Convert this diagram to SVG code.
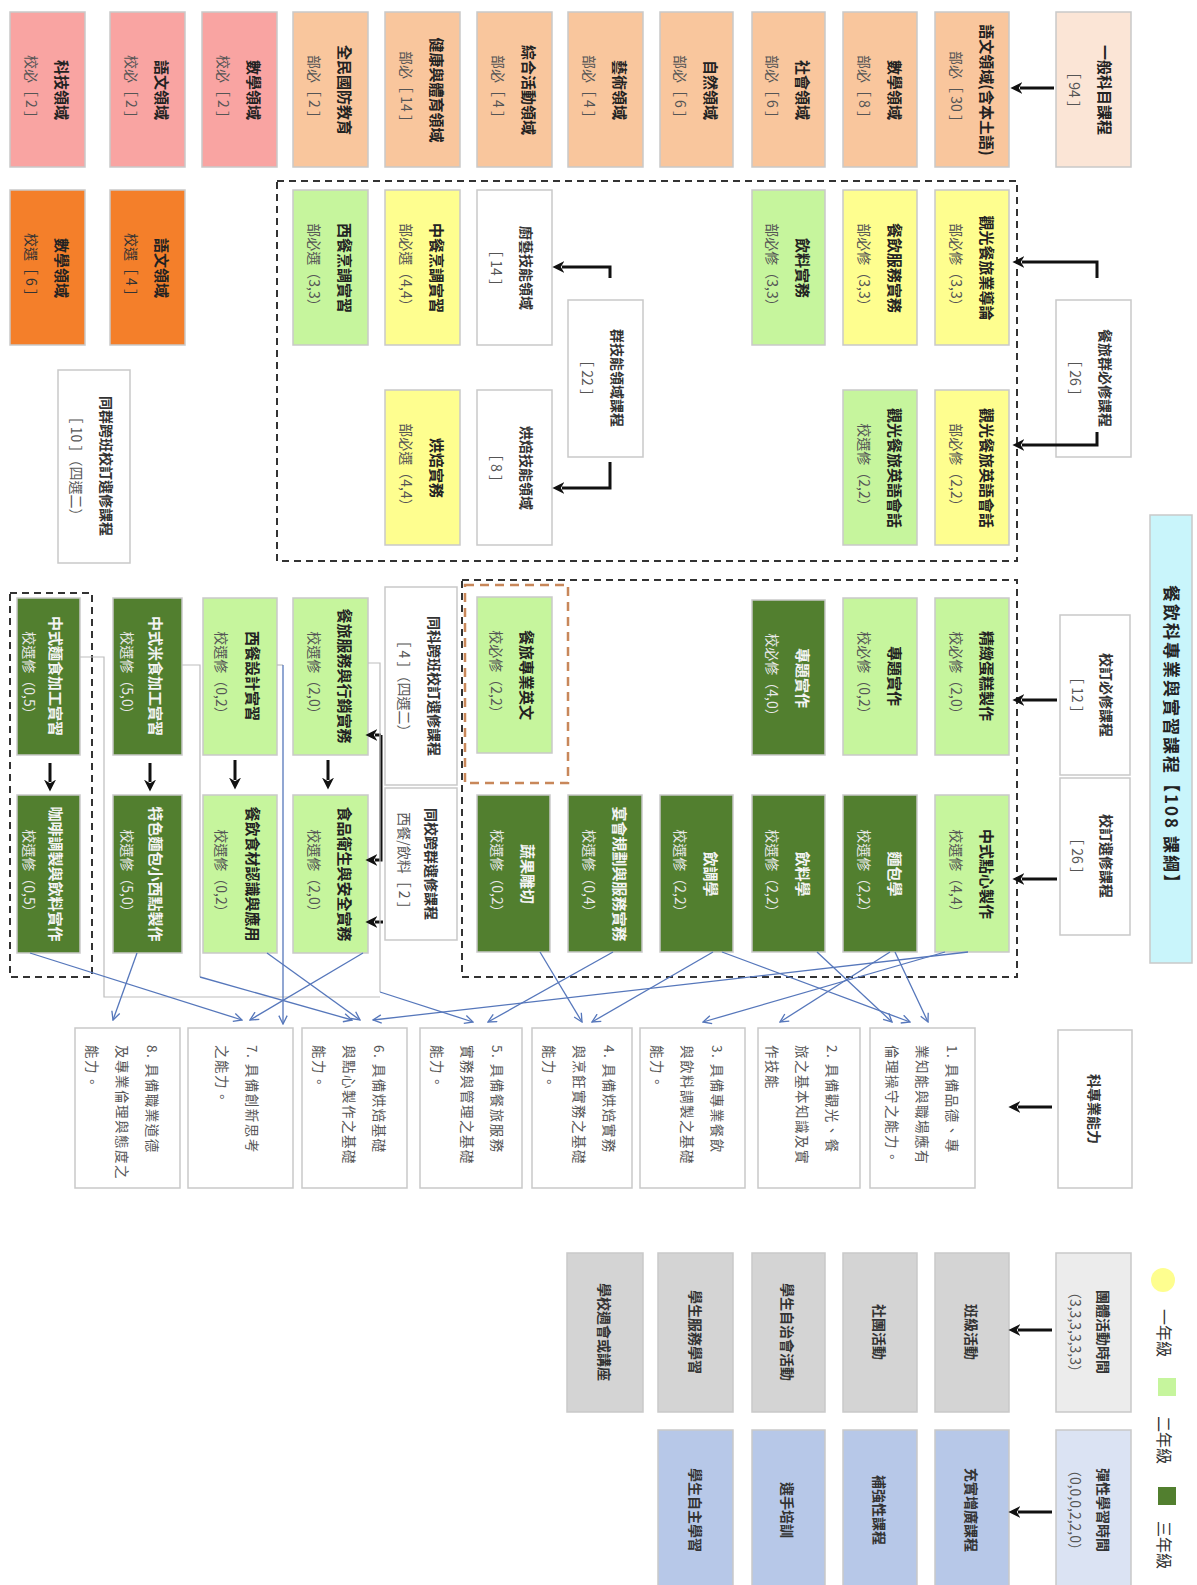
<svg xmlns="http://www.w3.org/2000/svg" width="1197" height="1585" viewBox="0 0 1197 1585">
<defs>
<style>
text{font-family:"Noto Sans CJK TC","Noto Sans CJK SC",sans-serif;text-anchor:middle;dominant-baseline:central}
.t{font-size:15px;font-weight:bold;fill:#222}
.s{font-size:14px;fill:#555}
.h{font-size:14px;font-weight:bold;fill:#333}
.tw{font-size:15px;font-weight:bold;fill:#f4f4f4}
.sw{font-size:14px;fill:#e8e8e8}
.o{font-size:13.5px;fill:#555;text-anchor:start;letter-spacing:1.5px}
.box{stroke:#c9c9c9;stroke-width:1.5}
.pink{fill:#f9a4a2}.peach{fill:#f9c69d}.cream{fill:#fbe5d6}.orange{fill:#f47f2a}
.yellow{fill:#fefe8f}.lg{fill:#c6f59d}.dg{fill:#527f2f}.white{fill:#fff}
.gray{fill:#d4d4d4}.blue{fill:#b7c8e8}.lgray{fill:#ececec}.lblue{fill:#dbe3f3}.cyan{fill:#c9f5fb}
.dash{fill:none;stroke:#333;stroke-width:2;stroke-dasharray:7,5}
.ar{fill:none;stroke:#111;stroke-width:3}
.bl{fill:none;stroke:#5677bb;stroke-width:1.3;marker-end:url(#ob)}
.gl{fill:none;stroke:#bdbdbd;stroke-width:1.2}
</style>
<marker id="ak" viewBox="0 0 10 10" refX="2" refY="5" markerWidth="4" markerHeight="4" orient="auto"><path d="M0,0 L10,5 L0,10 L3,5 z" fill="#111"/></marker>
<marker id="ob" viewBox="0 0 12 12" refX="11" refY="6" markerWidth="10" markerHeight="10" markerUnits="userSpaceOnUse" orient="auto"><path d="M1,1 L11,6 L1,11" fill="none" stroke="#5677bb" stroke-width="1.6"/></marker>
</defs>
<rect width="1197" height="1585" fill="#fff"/>

<!-- dashed groups -->
<g id="groups">
<rect class="dash" x="277" y="181" width="740" height="380"/>
<rect class="dash" x="462" y="580" width="555" height="397"/>
<rect x="465" y="585" width="103" height="198" fill="none" stroke="#c8875a" stroke-width="2.5" stroke-dasharray="9,6"/>
<rect class="dash" x="10" y="593" width="82" height="384"/>
</g>

<!-- top row -->
<g id="n-tech"><rect class="box pink" x="10" y="12" width="75" height="155"/><text class="t" transform="translate(62,90) rotate(90)">科技領域</text><text class="s" transform="translate(32,90) rotate(90)">校必［ 2 ］</text></g>
<g id="n-lang2"><rect class="box pink" x="110" y="12" width="75" height="155"/><text class="t" transform="translate(162,90) rotate(90)">語文領域</text><text class="s" transform="translate(132,90) rotate(90)">校必［ 2 ］</text></g>
<g id="n-math2"><rect class="box pink" x="202" y="12" width="75" height="155"/><text class="t" transform="translate(254,90) rotate(90)">數學領域</text><text class="s" transform="translate(224,90) rotate(90)">校必［ 2 ］</text></g>
<g id="n-def"><rect class="box peach" x="293" y="12" width="75" height="155"/><text class="t" transform="translate(345,90) rotate(90)">全民國防教育</text><text class="s" transform="translate(315,90) rotate(90)">部必［ 2 ］</text></g>
<g id="n-pe"><rect class="box peach" x="385" y="12" width="75" height="155"/><text class="t" transform="translate(437,90) rotate(90)">健康與體育領域</text><text class="s" transform="translate(407,90) rotate(90)">部必［ 14 ］</text></g>
<g id="n-comp"><rect class="box peach" x="477" y="12" width="75" height="155"/><text class="t" transform="translate(529,90) rotate(90)">綜合活動領域</text><text class="s" transform="translate(499,90) rotate(90)">部必［ 4 ］</text></g>
<g id="n-art"><rect class="box peach" x="568" y="12" width="75" height="155"/><text class="t" transform="translate(620,90) rotate(90)">藝術領域</text><text class="s" transform="translate(590,90) rotate(90)">部必［ 4 ］</text></g>
<g id="n-sci"><rect class="box peach" x="660" y="12" width="73" height="155"/><text class="t" transform="translate(711,90) rotate(90)">自然領域</text><text class="s" transform="translate(681,90) rotate(90)">部必［ 6 ］</text></g>
<g id="n-soc"><rect class="box peach" x="752" y="12" width="73" height="155"/><text class="t" transform="translate(803,90) rotate(90)">社會領域</text><text class="s" transform="translate(773,90) rotate(90)">部必［ 6 ］</text></g>
<g id="n-math"><rect class="box peach" x="843" y="12" width="74" height="155"/><text class="t" transform="translate(895,90) rotate(90)">數學領域</text><text class="s" transform="translate(865,90) rotate(90)">部必［ 8 ］</text></g>
<g id="n-lang"><rect class="box peach" x="935" y="12" width="74" height="155"/><text class="t" transform="translate(987,90) rotate(90)">語文領域(含本土語)</text><text class="s" transform="translate(957,90) rotate(90)">部必［ 30 ］</text></g>
<g id="n-gen"><rect class="box cream" x="1056" y="12" width="75" height="155"/><text class="t" transform="translate(1105,90) rotate(90)">一般科目課程</text><text class="s" transform="translate(1075,90) rotate(90)">［ 94 ］</text></g>

<!-- row 2 / 3 -->
<g id="n-math3"><rect class="box orange" x="10" y="190" width="75" height="155"/><text class="t" transform="translate(62,268) rotate(90)">數學領域</text><text class="s" style="fill:#333" transform="translate(32,268) rotate(90)">校選［ 6 ］</text></g>
<g id="n-lang3"><rect class="box orange" x="110" y="190" width="75" height="155"/><text class="t" transform="translate(162,268) rotate(90)">語文領域</text><text class="s" style="fill:#333" transform="translate(132,268) rotate(90)">校選［ 4 ］</text></g>
<g id="n-west"><rect class="box lg" x="293" y="190" width="75" height="155"/><text class="t" transform="translate(345,268) rotate(90)">西餐烹調實習</text><text class="s" transform="translate(315,268) rotate(90)">部必選（3,3）</text></g>
<g id="n-chn"><rect class="box yellow" x="385" y="190" width="75" height="155"/><text class="t" transform="translate(437,268) rotate(90)">中餐烹調實習</text><text class="s" transform="translate(407,268) rotate(90)">部必選（4,4）</text></g>
<g id="n-chef"><rect class="box white" x="477" y="190" width="75" height="155"/><text class="h" transform="translate(527,268) rotate(90)">廚藝技能領域</text><text class="s" transform="translate(497,268) rotate(90)">［ 14 ］</text></g>
<g id="n-bev"><rect class="box lg" x="752" y="190" width="73" height="155"/><text class="t" transform="translate(803,268) rotate(90)">飲料實務</text><text class="s" transform="translate(773,268) rotate(90)">部必修（3,3）</text></g>
<g id="n-serv"><rect class="box yellow" x="843" y="190" width="74" height="155"/><text class="t" transform="translate(895,268) rotate(90)">餐飲服務實務</text><text class="s" transform="translate(865,268) rotate(90)">部必修（3,3）</text></g>
<g id="n-intro"><rect class="box yellow" x="935" y="190" width="74" height="155"/><text class="t" transform="translate(987,268) rotate(90)">觀光餐旅業導論</text><text class="s" transform="translate(957,268) rotate(90)">部必修（3,3）</text></g>

<g id="n-skill"><rect class="box white" x="568" y="300" width="75" height="157"/><text class="h" transform="translate(618,378) rotate(90)">群技能領域課程</text><text class="s" transform="translate(588,378) rotate(90)">［ 22 ］</text></g>
<g id="n-grp"><rect class="box white" x="1056" y="300" width="75" height="157"/><text class="h" transform="translate(1106,378) rotate(90)">餐旅群必修課程</text><text class="s" transform="translate(1076,378) rotate(90)">［ 26 ］</text></g>

<g id="n-cross10"><rect class="box white" x="58" y="370" width="72" height="193"/><text class="h" transform="translate(107,466) rotate(90)">同群跨班校訂選修課程</text><text class="s" transform="translate(77,466) rotate(90)">［ 10 ］（四選二）</text></g>
<g id="n-bake"><rect class="box yellow" x="385" y="390" width="75" height="155"/><text class="t" transform="translate(437,468) rotate(90)">烘焙實務</text><text class="s" transform="translate(407,468) rotate(90)">部必選（4,4）</text></g>
<g id="n-bakef"><rect class="box white" x="477" y="390" width="75" height="155"/><text class="h" transform="translate(527,468) rotate(90)">烘焙技能領域</text><text class="s" transform="translate(497,468) rotate(90)">［ 8 ］</text></g>
<g id="n-eng2"><rect class="box lg" x="843" y="390" width="74" height="155"/><text class="t" transform="translate(895,468) rotate(90)">觀光餐旅英語會話</text><text class="s" transform="translate(865,468) rotate(90)">校選修（2,2）</text></g>
<g id="n-eng1"><rect class="box yellow" x="935" y="390" width="74" height="155"/><text class="t" transform="translate(987,468) rotate(90)">觀光餐旅英語會話</text><text class="s" transform="translate(957,468) rotate(90)">部必修（2,2）</text></g>

<!-- row 4 -->
<g id="n-r4a"><rect class="box dg" x="17" y="598" width="63" height="157"/><text class="tw" transform="translate(56,676) rotate(90)">中式麵食加工實習</text><text class="sw" transform="translate(30,676) rotate(90)">校選修（0,5）</text></g>
<g id="n-r4b"><rect class="box dg" x="113" y="598" width="69" height="157"/><text class="tw" transform="translate(156,676) rotate(90)">中式米食加工實習</text><text class="sw" transform="translate(128,676) rotate(90)">校選修（5,0）</text></g>
<g id="n-r4c"><rect class="box lg" x="203" y="598" width="74" height="157"/><text class="t" transform="translate(253,676) rotate(90)">西餐設計實習</text><text class="s" transform="translate(222,676) rotate(90)">校選修（0,2）</text></g>
<g id="n-r4d"><rect class="box lg" x="293" y="598" width="75" height="157"/><text class="t" transform="translate(345,676) rotate(90)">餐旅服務與行銷實務</text><text class="s" transform="translate(315,676) rotate(90)">校選修（2,0）</text></g>
<g id="n-cross4"><rect class="box white" x="385" y="587" width="72" height="198"/><text class="h" transform="translate(435,686) rotate(90)">同科跨班校訂選修課程</text><text class="s" transform="translate(405,686) rotate(90)">［ 4 ］（四選二）</text></g>
<g id="n-eng3"><rect class="box lg" x="477" y="597" width="75" height="156"/><text class="t" transform="translate(527,675) rotate(90)">餐旅專業英文</text><text class="s" transform="translate(497,675) rotate(90)">校必修（2,2）</text></g>
<g id="n-proj3"><rect class="box dg" x="752" y="600" width="73" height="155"/><text class="tw" transform="translate(803,678) rotate(90)">專題實作</text><text class="sw" transform="translate(773,678) rotate(90)">校必修（4,0）</text></g>
<g id="n-proj2"><rect class="box lg" x="843" y="598" width="74" height="157"/><text class="t" transform="translate(895,676) rotate(90)">專題實作</text><text class="s" transform="translate(865,676) rotate(90)">校必修（0,2）</text></g>
<g id="n-cake"><rect class="box lg" x="935" y="598" width="74" height="157"/><text class="t" transform="translate(987,676) rotate(90)">精緻蛋糕製作</text><text class="s" transform="translate(957,676) rotate(90)">校必修（2,0）</text></g>
<g id="n-req12"><rect class="box white" x="1060" y="615" width="70" height="160"/><text class="h" transform="translate(1107,695) rotate(90)">校訂必修課程</text><text class="s" transform="translate(1078,695) rotate(90)">［ 12 ］</text></g>
<g id="n-el26"><rect class="box white" x="1060" y="778" width="70" height="157"/><text class="h" transform="translate(1107,856) rotate(90)">校訂選修課程</text><text class="s" transform="translate(1078,856) rotate(90)">［ 26 ］</text></g>
<g id="n-title"><rect class="box cyan" x="1150" y="515" width="42" height="448"/><text class="t" style="font-size:17px;letter-spacing:2px" transform="translate(1172,739) rotate(90)">餐飲科專業與實習課程【108 課綱】</text></g>

<!-- row 5 -->
<g id="n-r5a"><rect class="box dg" x="17" y="795" width="63" height="158"/><text class="tw" transform="translate(56,874) rotate(90)">咖啡調製與飲料實作</text><text class="sw" transform="translate(30,874) rotate(90)">校選修（0,5）</text></g>
<g id="n-r5b"><rect class="box dg" x="113" y="795" width="69" height="158"/><text class="tw" transform="translate(156,874) rotate(90)">特色麵包小西點製作</text><text class="sw" transform="translate(128,874) rotate(90)">校選修（5,0）</text></g>
<g id="n-r5c"><rect class="box lg" x="203" y="795" width="74" height="158"/><text class="t" transform="translate(253,874) rotate(90)">餐飲食材認識與應用</text><text class="s" transform="translate(222,874) rotate(90)">校選修（0,2）</text></g>
<g id="n-r5d"><rect class="box lg" x="293" y="795" width="75" height="158"/><text class="t" transform="translate(345,874) rotate(90)">食品衛生與安全實務</text><text class="s" transform="translate(315,874) rotate(90)">校選修（2,0）</text></g>
<g id="n-cross2"><rect class="box white" x="385" y="788" width="72" height="152"/><text class="h" transform="translate(432,864) rotate(90)">同校跨群選修課程</text><text class="s" transform="translate(405,864) rotate(90)">西餐/飲料［ 2 ］</text></g>
<g id="n-r5e"><rect class="box dg" x="477" y="795" width="73" height="157"/><text class="tw" transform="translate(528,874) rotate(90)">蔬果雕切</text><text class="sw" transform="translate(498,874) rotate(90)">校選修（0,2）</text></g>
<g id="n-r5f"><rect class="box dg" x="568" y="795" width="74" height="157"/><text class="tw" transform="translate(620,874) rotate(90)">宴會規劃與服務實務</text><text class="sw" transform="translate(590,874) rotate(90)">校選修（0,4）</text></g>
<g id="n-r5g"><rect class="box dg" x="660" y="795" width="73" height="157"/><text class="tw" transform="translate(711,874) rotate(90)">飲調學</text><text class="sw" transform="translate(681,874) rotate(90)">校選修（2,2）</text></g>
<g id="n-r5h"><rect class="box dg" x="752" y="795" width="73" height="157"/><text class="tw" transform="translate(803,874) rotate(90)">飲料學</text><text class="sw" transform="translate(773,874) rotate(90)">校選修（2,2）</text></g>
<g id="n-r5i"><rect class="box dg" x="843" y="795" width="74" height="157"/><text class="tw" transform="translate(895,874) rotate(90)">麵包學</text><text class="sw" transform="translate(865,874) rotate(90)">校選修（2,2）</text></g>
<g id="n-r5j"><rect class="box lg" x="935" y="795" width="74" height="157"/><text class="t" transform="translate(987,874) rotate(90)">中式點心製作</text><text class="s" transform="translate(957,874) rotate(90)">校選修（4,4）</text></g>

<!-- outcomes -->
<g id="n-o8"><rect class="box white" x="75" y="1028" width="105" height="160"/><text class="o" transform="translate(153,1045) rotate(90)">8. 具備職業道德</text><text class="o" transform="translate(123,1045) rotate(90)">及專業倫理與態度之</text><text class="o" transform="translate(93,1045) rotate(90)">能力。</text></g>
<g id="n-o7"><rect class="box white" x="188" y="1028" width="105" height="160"/><text class="o" transform="translate(253,1045) rotate(90)">7. 具備創新思考</text><text class="o" transform="translate(223,1045) rotate(90)">之能力。</text></g>
<g id="n-o6"><rect class="box white" x="302" y="1028" width="105" height="160"/><text class="o" transform="translate(380,1045) rotate(90)">6. 具備烘焙基礎</text><text class="o" transform="translate(350,1045) rotate(90)">與點心製作之基礎</text><text class="o" transform="translate(320,1045) rotate(90)">能力。</text></g>
<g id="n-o5"><rect class="box white" x="420" y="1028" width="102" height="160"/><text class="o" transform="translate(498,1045) rotate(90)">5. 具備餐旅服務</text><text class="o" transform="translate(468,1045) rotate(90)">實務與管理之基礎</text><text class="o" transform="translate(438,1045) rotate(90)">能力。</text></g>
<g id="n-o4"><rect class="box white" x="532" y="1028" width="100" height="160"/><text class="o" transform="translate(610,1045) rotate(90)">4. 具備烘焙實務</text><text class="o" transform="translate(580,1045) rotate(90)">與烹飪實務之基礎</text><text class="o" transform="translate(550,1045) rotate(90)">能力。</text></g>
<g id="n-o3"><rect class="box white" x="640" y="1028" width="105" height="160"/><text class="o" transform="translate(718,1045) rotate(90)">3. 具備專業餐飲</text><text class="o" transform="translate(688,1045) rotate(90)">與飲料調製之基礎</text><text class="o" transform="translate(658,1045) rotate(90)">能力。</text></g>
<g id="n-o2"><rect class="box white" x="758" y="1028" width="102" height="160"/><text class="o" transform="translate(833,1045) rotate(90)">2. 具備觀光、餐</text><text class="o" transform="translate(803,1045) rotate(90)">旅之基本知識及實</text><text class="o" transform="translate(773,1045) rotate(90)">作技能</text></g>
<g id="n-o1"><rect class="box white" x="870" y="1028" width="105" height="160"/><text class="o" transform="translate(953,1045) rotate(90)">1. 具備品德、專</text><text class="o" transform="translate(923,1045) rotate(90)">業知能與職場應有</text><text class="o" transform="translate(893,1045) rotate(90)">倫理操守之能力。</text></g>
<g id="n-abil"><rect class="box white" x="1058" y="1030" width="74" height="158"/><text class="h" transform="translate(1095,1109) rotate(90)">科專業能力</text></g>

<!-- activities -->
<g id="n-a5"><rect class="box gray" x="567" y="1253" width="76" height="159"/><text class="h" transform="translate(605,1332) rotate(90)">學校週會或講座</text></g>
<g id="n-a4"><rect class="box gray" x="658" y="1253" width="75" height="159"/><text class="h" transform="translate(696,1332) rotate(90)">學生服務學習</text></g>
<g id="n-a3"><rect class="box gray" x="752" y="1253" width="73" height="159"/><text class="h" transform="translate(788,1332) rotate(90)">學生自治會活動</text></g>
<g id="n-a2"><rect class="box gray" x="843" y="1253" width="74" height="159"/><text class="h" transform="translate(880,1332) rotate(90)">社團活動</text></g>
<g id="n-a1"><rect class="box gray" x="935" y="1253" width="74" height="159"/><text class="h" transform="translate(972,1332) rotate(90)">班級活動</text></g>
<g id="n-grpact"><rect class="box lgray" x="1056" y="1253" width="75" height="159"/><text class="h" transform="translate(1104,1332) rotate(90)">團體活動時間</text><text class="s" transform="translate(1076,1332) rotate(90)">（3,3,3,3,3,3）</text></g>

<g id="n-b4"><rect class="box blue" x="658" y="1430" width="75" height="160"/><text class="h" transform="translate(696,1510) rotate(90)">學生自主學習</text></g>
<g id="n-b3"><rect class="box blue" x="752" y="1430" width="73" height="160"/><text class="h" transform="translate(788,1510) rotate(90)">選手培訓</text></g>
<g id="n-b2"><rect class="box blue" x="843" y="1430" width="74" height="160"/><text class="h" transform="translate(880,1510) rotate(90)">補強性課程</text></g>
<g id="n-b1"><rect class="box blue" x="935" y="1430" width="74" height="160"/><text class="h" transform="translate(972,1510) rotate(90)">充實增廣課程</text></g>
<g id="n-flex"><rect class="box lblue" x="1056" y="1430" width="75" height="160"/><text class="h" transform="translate(1104,1510) rotate(90)">彈性學習時間</text><text class="s" transform="translate(1076,1510) rotate(90)">（0,0,0,2,2,0）</text></g>

<!-- legend -->
<g id="legend">
<circle cx="1163" cy="1280" r="12" fill="#fefe8f"/>
<text class="s" style="fill:#333;font-size:16px" transform="translate(1165,1333) rotate(90)">一年級</text>
<rect x="1158" y="1378" width="18" height="18" fill="#c6f59d"/>
<text class="s" style="fill:#333;font-size:16px" transform="translate(1165,1440) rotate(90)">二年級</text>
<rect x="1158" y="1487" width="18" height="18" fill="#527f2f"/>
<text class="s" style="fill:#333;font-size:16px" transform="translate(1165,1545) rotate(90)">三年級</text>
</g>

<!-- connectors -->
<g id="connectors">
<path class="ar" d="M1054,88 H1020" marker-end="url(#ak)"/>
<path class="ar" d="M1097,278 V262 H1022" marker-end="url(#ak)"/>
<path class="ar" d="M1097,432 V445 H1022" marker-end="url(#ak)"/>
<path class="ar" d="M610,278 V267 H562" marker-end="url(#ak)"/>
<path class="ar" d="M610,462 V488 H562" marker-end="url(#ak)"/>
<path class="ar" d="M1057,700 H1022" marker-end="url(#ak)"/>
<path class="ar" d="M1057,879 H1022" marker-end="url(#ak)"/>
<path class="ar" d="M1052,1107 H1018" marker-end="url(#ak)"/>
<path class="ar" d="M1052,1330 H1018" marker-end="url(#ak)"/>
<path class="ar" d="M1052,1512 H1018" marker-end="url(#ak)"/>
<path class="ar" d="M50,763 V782" marker-end="url(#ak)"/>
<path class="ar" d="M150,763 V782" marker-end="url(#ak)"/>
<path class="ar" d="M235,760 V780" marker-end="url(#ak)"/>
<path class="ar" d="M328,760 V780" marker-end="url(#ak)"/>
<path class="ar" d="M381,735 V860 H375" marker-end="url(#ak)"/>
<path class="ar" d="M381,735 H375" marker-end="url(#ak)"/>
<path class="ar" d="M383,922 H375" marker-end="url(#ak)"/>
<path class="gl" d="M80,657 H104 V997 H380"/>
<path class="gl" d="M182,665 H200 V977"/>
<path class="gl" d="M277,665 H283"/>
<path class="gl" d="M368,663 H380 V992"/>
<path class="bl" d="M30,953 L242,1020"/>
<path class="bl" d="M137,953 L113,1020"/>
<path class="bl" d="M200,977 L352,1020"/>
<path class="bl" d="M267,953 L360,1020"/>
<path class="bl" d="M363,953 L250,1020"/>
<path class="bl" d="M283,665 V1024"/>
<path class="bl" d="M380,992 L473,1022"/>
<path class="bl" d="M540,952 L582,1022"/>
<path class="bl" d="M613,952 L488,1022"/>
<path class="bl" d="M713,952 L592,1022"/>
<path class="bl" d="M722,952 L910,1022"/>
<path class="bl" d="M817,952 L892,1022"/>
<path class="bl" d="M890,952 L780,1022"/>
<path class="bl" d="M895,952 L928,1022"/>
<path class="bl" d="M945,952 L703,1022"/>
<path class="bl" d="M968,952 L373,1020"/>
</g>
</svg>
